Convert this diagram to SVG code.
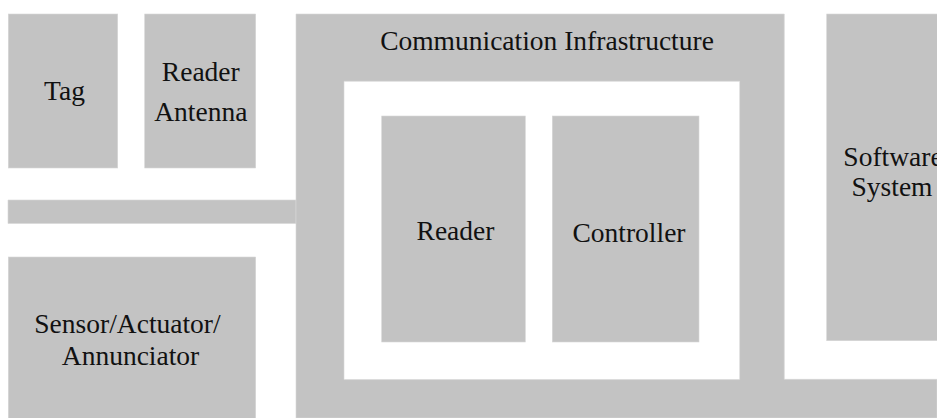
<svg xmlns="http://www.w3.org/2000/svg" width="937" height="418" viewBox="0 0 937 418">
<style>
.box{fill:#c3c3c3;stroke:#d6d6d6;stroke-width:0.6}
.lbl{fill:#111111;text-anchor:middle;font-family:"Liberation Serif","Times New Roman",serif;font-size:27.5px}
</style>
<rect width="937" height="418" fill="#ffffff"/>
<g id="connectors">
<path class="box" d="M8,200 H296 V223.5 H8 Z"/>
</g>
<g id="comm-infrastructure">
<path class="box" fill-rule="evenodd" d="M296,14 H784.3 V379.3 H937 V418 H296 Z M344,81.3 V379.6 H739.7 V81.3 Z"/>
<text class="lbl" x="547" y="50">Communication Infrastructure</text>
</g>
<g id="tag">
<rect class="box" x="8.3" y="14" width="109.4" height="154"/>
<text class="lbl" x="64.5" y="99.5">Tag</text>
</g>
<g id="reader-antenna">
<rect class="box" x="144.7" y="14" width="111" height="154"/>
<text class="lbl" x="200.8" y="80.7">Reader</text>
<text class="lbl" x="200.8" y="121">Antenna</text>
</g>
<g id="software-system">
<rect class="box" x="826.7" y="14" width="115" height="326.7"/>
<text class="lbl" x="893" y="166">Software</text>
<text class="lbl" x="892" y="196">System</text>
</g>
<g id="sensor-actuator">
<rect class="box" x="8.3" y="257" width="247.4" height="165"/>
<text class="lbl" x="127.5" y="333.3">Sensor/Actuator/</text>
<text class="lbl" x="130.5" y="365">Annunciator</text>
</g>
<g id="reader">
<rect class="box" x="381.7" y="116" width="143.6" height="226"/>
<text class="lbl" x="455.5" y="240">Reader</text>
</g>
<g id="controller">
<rect class="box" x="552.3" y="116" width="146.7" height="226"/>
<text class="lbl" x="629" y="241.7">Controller</text>
</g>
</svg>
